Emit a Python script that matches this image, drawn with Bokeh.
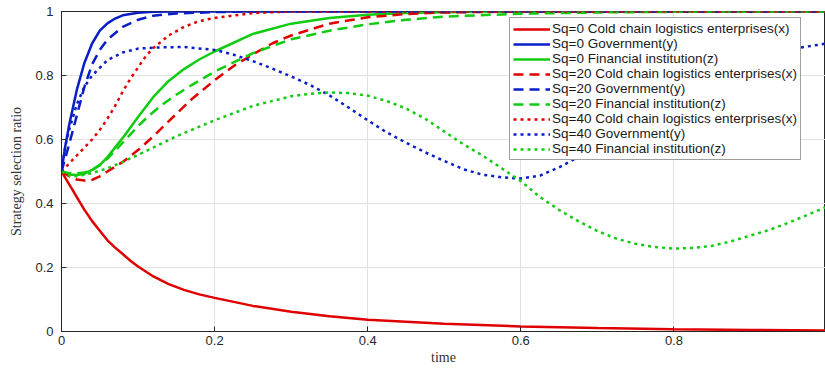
from bokeh.plotting import figure
from bokeh.models import Legend, LegendItem, Range1d, FixedTicker, NumeralTickFormatter
from bokeh.embed import file_html
from bokeh.resources import INLINE

# ---- evolution curves: time points and strategy selection ratios ----
# Sq = 0
T_X0 = [0, 0.005, 0.01, 0.015, 0.02, 0.03, 0.04, 0.05, 0.06, 0.07, 0.08, 0.09, 0.1, 0.12, 0.14, 0.16, 0.18, 0.2,
        0.25, 0.3, 0.35, 0.4, 0.5, 0.6, 0.7, 0.8, 0.9, 1.0]
X0 = [0.5, 0.48, 0.46, 0.44, 0.42, 0.38, 0.345, 0.315, 0.285, 0.262, 0.242, 0.221, 0.203, 0.172, 0.148, 0.13, 0.116, 0.105,
      0.08, 0.062, 0.048, 0.037, 0.024, 0.016, 0.011, 0.007, 0.005, 0.003]

T_Y0 = [0, 0.005, 0.01, 0.02, 0.03, 0.04, 0.05, 0.06, 0.07, 0.08, 0.1, 0.12, 0.15, 1.0]
Y0 = [0.5, 0.58, 0.645, 0.755, 0.84, 0.9, 0.94, 0.963, 0.978, 0.988, 0.996, 0.999, 1.0, 1.0]

T_Z0 = [0, 0.01, 0.02, 0.03, 0.04, 0.05, 0.06, 0.08, 0.1, 0.12, 0.14, 0.16, 0.18, 0.2, 0.25, 0.3, 0.35, 0.4, 0.45, 0.5, 0.6, 1.0]
Z0 = [0.5, 0.491, 0.489, 0.493, 0.505, 0.52, 0.545, 0.605, 0.67, 0.733, 0.783, 0.82, 0.85, 0.875, 0.93, 0.962, 0.98, 0.99, 0.995, 0.998, 1.0, 1.0]

# Sq = 20
T_X20 = [0, 0.01, 0.02, 0.03, 0.04, 0.05, 0.06, 0.08, 0.1, 0.12, 0.15, 0.17, 0.2, 0.225, 0.25, 0.275, 0.3, 0.35, 0.4, 0.45, 0.5, 0.6, 1.0]
X20 = [0.5, 0.485, 0.475, 0.472, 0.474, 0.485, 0.5, 0.53, 0.567, 0.61, 0.68, 0.726, 0.785, 0.83, 0.866, 0.9, 0.925, 0.962, 0.982, 0.992, 0.997, 1.0, 1.0]

T_Y20 = [0, 0.01, 0.02, 0.03, 0.04, 0.05, 0.06, 0.08, 0.1, 0.12, 0.15, 0.2, 0.25, 1.0]
Y20 = [0.5, 0.585, 0.675, 0.765, 0.835, 0.88, 0.912, 0.952, 0.974, 0.987, 0.994, 0.998, 1.0, 1.0]

T_Z20 = [0, 0.01, 0.02, 0.03, 0.04, 0.05, 0.06, 0.07, 0.085, 0.1, 0.115, 0.13, 0.15, 0.17, 0.2, 0.25, 0.3, 0.35, 0.4, 0.45, 0.5, 0.6, 0.7, 0.8, 1.0]
Z20 = [0.5, 0.495, 0.494, 0.497, 0.505, 0.52, 0.54, 0.565, 0.603, 0.642, 0.676, 0.706, 0.74, 0.77, 0.812, 0.87, 0.913, 0.94, 0.96, 0.974, 0.984, 0.993, 0.997, 0.999, 1.0]

# Sq = 40
T_X40 = [0, 0.01, 0.02, 0.03, 0.04, 0.05, 0.06, 0.07, 0.08, 0.09, 0.1, 0.11, 0.12, 0.14, 0.16, 0.18, 0.2, 0.25, 0.3, 1.0]
X40 = [0.5, 0.525, 0.55, 0.575, 0.6, 0.63, 0.665, 0.705, 0.75, 0.79, 0.825, 0.86, 0.886, 0.925, 0.952, 0.97, 0.98, 0.995, 1.0, 1.0]

T_Y40 = [0, 0.005, 0.01, 0.02, 0.03, 0.04, 0.06, 0.08, 0.1, 0.13, 0.16, 0.2, 0.225, 0.25, 0.275, 0.3, 0.325, 0.35, 0.375,
         0.4, 0.425, 0.45, 0.475, 0.5, 0.525, 0.55, 0.575, 0.6, 0.625, 0.65, 0.675, 0.7, 0.75, 0.8, 0.85, 0.9, 0.95, 1.0]
Y40 = [0.5, 0.58, 0.63, 0.71, 0.765, 0.8, 0.848, 0.872, 0.884, 0.888, 0.889, 0.88, 0.865, 0.845, 0.822, 0.797, 0.77, 0.738, 0.7,
       0.66, 0.622, 0.59, 0.56, 0.533, 0.507, 0.49, 0.482, 0.478, 0.487, 0.513, 0.545, 0.585, 0.67, 0.75, 0.81, 0.855, 0.882, 0.9]

T_Z40 = [0, 0.01, 0.02, 0.04, 0.06, 0.08, 0.1, 0.12, 0.15, 0.2, 0.25, 0.3, 0.325, 0.35, 0.375, 0.4, 0.425, 0.45, 0.475,
         0.5, 0.525, 0.55, 0.575, 0.6, 0.625, 0.65, 0.675, 0.7, 0.725, 0.75, 0.775, 0.8, 0.825, 0.85, 0.875, 0.9, 0.925,
         0.95, 0.975, 1.0]
Z40 = [0.5, 0.487, 0.485, 0.495, 0.51, 0.53, 0.552, 0.575, 0.61, 0.66, 0.705, 0.735, 0.743, 0.747, 0.745, 0.737, 0.72, 0.697, 0.665,
       0.625, 0.585, 0.55, 0.51, 0.47, 0.42, 0.38, 0.345, 0.314, 0.29, 0.274, 0.264, 0.259, 0.261, 0.268, 0.282, 0.3, 0.318,
       0.34, 0.365, 0.39]

LABELS = [
    "Sq=0 Cold chain logistics enterprises(x)",
    "Sq=0 Government(y)",
    "Sq=0 Financial institution(z)",
    "Sq=20 Cold chain logistics enterprises(x)",
    "Sq=20 Government(y)",
    "Sq=20 Financial institution(z)",
    "Sq=40 Cold chain logistics enterprises(x)",
    "Sq=40 Government(y)",
    "Sq=40 Financial institution(z)",
]
X_TICKS = [0, 0.2, 0.4, 0.6, 0.8, 1.0]
Y_TICKS = [0, 0.2, 0.4, 0.6, 0.8, 1.0]

RED, BLUE, GREEN = "#e00000", "#0a1ec8", "#10cc10"
SOLID, DASHED, DOTTED = "solid", "10 6", "3 4"

series = [
    (T_X0, X0, RED, SOLID), (T_Y0, Y0, BLUE, SOLID), (T_Z0, Z0, GREEN, SOLID),
    (T_X20, X20, RED, DASHED), (T_Y20, Y20, BLUE, DASHED), (T_Z20, Z20, GREEN, DASHED),
    (T_X40, X40, RED, DOTTED), (T_Y40, Y40, BLUE, DOTTED), (T_Z40, Z40, GREEN, DOTTED),
]

p = figure(width=825, height=369, output_backend="svg", toolbar_location=None,
           x_range=Range1d(0, 0.998), y_range=Range1d(0, 1),
           min_border_left=61, min_border_right=0, min_border_top=11, min_border_bottom=38,
           background_fill_color="white", border_fill_color="white")

p.outline_line_color = "#262626"
p.outline_line_width = 1

for ax in (p.xaxis[0], p.yaxis[0]):
    ax.major_tick_in = 5
    ax.major_tick_out = 0
    ax.minor_tick_line_color = None
    ax.axis_line_color = "#262626"
    ax.major_tick_line_color = "#262626"
    ax.major_label_text_font = "Liberation Sans"
    ax.major_label_text_font_size = "13px"
    ax.major_label_text_color = "#262626"
    ax.axis_label_text_font = "Liberation Serif"
    ax.axis_label_text_font_style = "normal"
    ax.axis_label_text_font_size = "14px"
    ax.axis_label_text_color = "#333333"
    ax.formatter = NumeralTickFormatter(format="0.[0]")

p.xaxis.ticker = FixedTicker(ticks=X_TICKS)
p.yaxis.ticker = FixedTicker(ticks=Y_TICKS)
p.xaxis.axis_label = "time"
p.yaxis.axis_label = "Strategy selection ratio"
p.xaxis.major_label_standoff = 4
p.xaxis.axis_label_standoff = 2
p.yaxis.major_label_standoff = 8
p.yaxis.axis_label_standoff = 8

p.xgrid.ticker = FixedTicker(ticks=X_TICKS)
p.ygrid.ticker = FixedTicker(ticks=Y_TICKS)
p.grid.grid_line_color = "#e2e2e2"
p.grid.grid_line_width = 1

items = []
for (t, v, color, dash), label in zip(series, LABELS):
    r = p.line(t, v, line_color=color, line_width=2.5, line_dash=dash)
    items.append(LegendItem(label=label, renderers=[r]))

legend = Legend(items=items, location=(448, 171), orientation="vertical",
                label_text_font="Liberation Sans", label_text_font_size="13.5px",
                label_text_line_height=0.9,
                label_text_color="#1a1a1a", glyph_width=37, glyph_height=14,
                label_height=14, label_standoff=2, spacing=0, padding=3, margin=0,
                border_line_color="#404040", border_line_width=1,
                background_fill_color="white", background_fill_alpha=1.0)
p.add_layout(legend)

open("out.html", "w").write(file_html(p, INLINE))
